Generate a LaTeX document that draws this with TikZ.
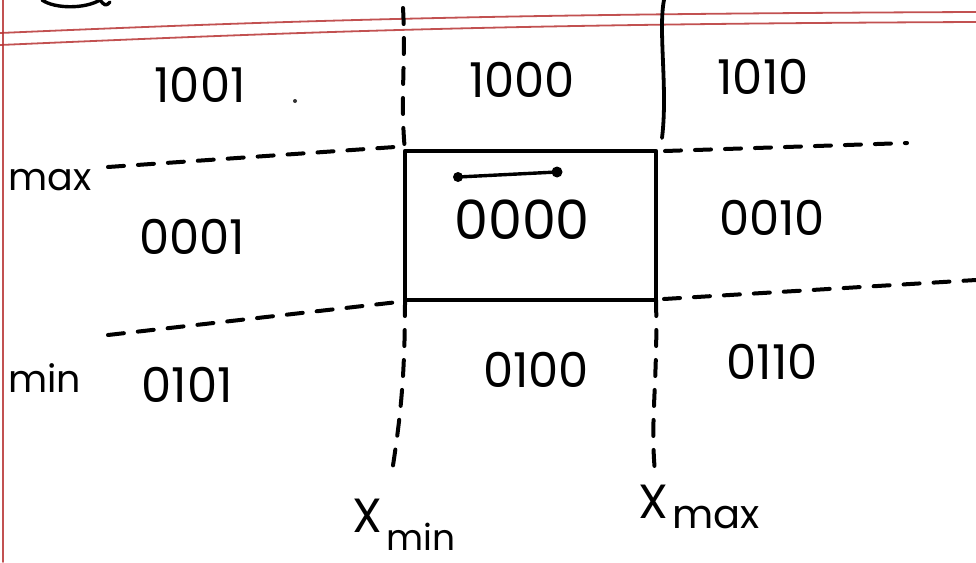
\documentclass[tikz,border=0pt]{standalone}
\usepackage{fontspec}
\setmainfont{Poppins}
\begin{document}
\begin{tikzpicture}[x=1pt,y=-1pt,line cap=round,line join=round,
  ink/.style={draw=black,line width=4.4pt},
  dashink/.style={draw=black,line width=4pt,dash pattern=on 16pt off 14pt},
  redline/.style={draw=red!65!black!80,line width=1.8pt,opacity=0.85},
  code/.style={font=\fontsize{48}{52}\selectfont,inner sep=0pt},
  lbl/.style={font=\fontsize{44}{48}\selectfont,inner sep=0pt},
  sub/.style={font=\fontsize{36}{40}\selectfont,inner sep=0pt}]
\useasboundingbox (0,0) rectangle (976,562);
\clip (0,0) rectangle (976,562);
\fill[white] (0,0) rectangle (976,562);
% notebook ruling
\draw[redline] (0,33) .. controls (300,20) and (500,14) .. (976,12);
\draw[redline] (0,45) .. controls (300,32) and (500,24) .. (976,22);
\draw[redline] (3,0) -- (3,562);
% cut-off writing at the top
\draw[ink,line width=3.4pt] (42,0) .. controls (55,9) and (85,9) .. (100,0);
\draw[ink,line width=3.4pt] (100,0) .. controls (104,5) and (106,7) .. (110,2);
% corners of the window
\coordinate (tl) at (405,151);
\coordinate (tr) at (656,151);
\coordinate (br) at (656,300);
\coordinate (bl) at (405,300);
% extension ends
\coordinate (vlt) at (403,8);
\coordinate (vlb) at (392,472);
\coordinate (vrt) at (664,0);
\coordinate (vrm) at (662,138);
\coordinate (vrb) at (655,472);
\coordinate (hmaxl) at (108,167);
\coordinate (hmaxlr) at (395,147);
\coordinate (hmaxr) at (907,143);
\coordinate (hmaxrl) at (665,151);
\coordinate (hminl) at (108,335);
\coordinate (hminlr) at (398,302);
\coordinate (hminrl) at (664,299);
\coordinate (hminr) at (976,280);
% window
\draw[ink,line width=4.8pt] (tl) -- (tr) -- (br) -- (bl) -- cycle;
% boundary extensions
\draw[dashink] (vlt) .. controls (406,60) and (400,100) .. (tl);
\draw[dashink] (bl) .. controls (405,380) and (400,420) .. (vlb);
\draw[ink,line width=3.8pt] (vrt) .. controls (658,30) and (668,90) .. (vrm);
\draw[dashink] (br) .. controls (658,380) and (650,420) .. (vrb);
\draw[dashink] (hmaxl) -- (hmaxlr);
\draw[dashink] (hmaxrl) -- (hmaxr);
\draw[dashink] (hminl) -- (hminlr);
\draw[dashink] (hminrl) -- (hminr);
% line segment inside window
\coordinate (sa) at (458,177);
\coordinate (sb) at (557,172);
\draw[ink,line width=3.4pt] (sa) -- (sb);
\fill[black] (sa) circle (5pt) (sb) circle (5.5pt);
% region codes
\node[code] (c1001) at (200,85) {1001};
\node[code] (c1000) at (522,80) {1000};
\node[code] (c1010) at (763,77) {1010};
\node[code] (c0001) at (192,237) {0001};
\node[code,font=\fontsize{54}{58}\selectfont] (c0000) at (522,220) {0000};
\node[code] (c0010) at (772,218) {0010};
\node[code] (c0101) at (187,385) {0101};
\node[code] (c0100) at (536,370) {0100};
\node[code] (c0110) at (772,362) {0110};
\fill[black!80] (295,101) circle (2pt);
% axis labels
\node[lbl,anchor=base west,font=\fontsize{38}{42}\selectfont] (ymax) at (8,190) {max};
\node[lbl,anchor=base west,font=\fontsize{38}{42}\selectfont] (ymin) at (8,392) {min};
\node[lbl,anchor=base west,font=\fontsize{48}{52}\selectfont] (xmin) at (352,532) {X};
\node[sub,anchor=base west] (xminsub) at (xmin.base east) [xshift=4pt,yshift=-18pt] {min};
\node[lbl,anchor=base west,font=\fontsize{48}{52}\selectfont] (xmax) at (638,518) {X};
\node[lbl,anchor=base west,font=\fontsize{40}{44}\selectfont] (xmaxsub) at (xmax.base east) [xshift=4pt,yshift=-10pt] {max};
\end{tikzpicture}
\end{document}
